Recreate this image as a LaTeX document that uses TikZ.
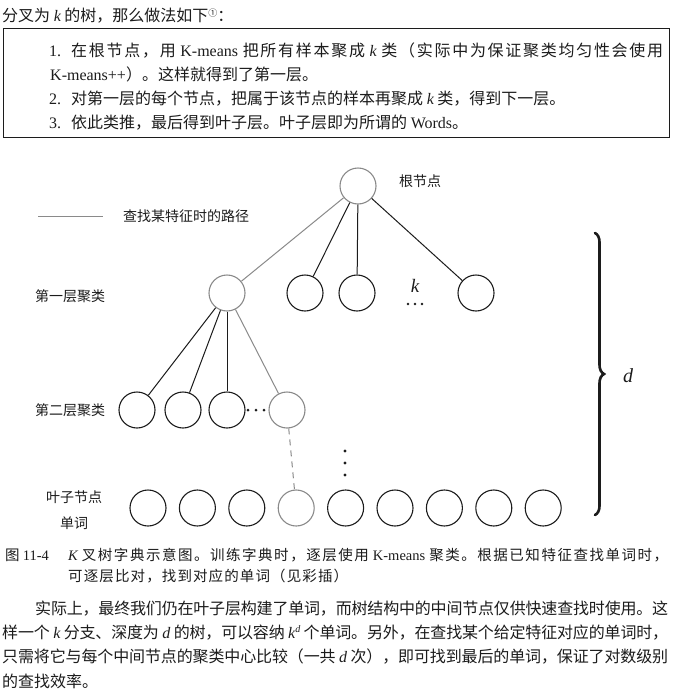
\documentclass[tikz,border=0pt]{standalone}
\usepackage{fontspec}
\setmainfont{Noto Sans CJK SC}
\newfontfamily\latf{Liberation Serif}
\usetikzlibrary{decorations.pathreplacing}
\newXeTeXintercharclass\cjkcls
\count255="4E00
\loop
  \XeTeXcharclass\count255=\cjkcls
  \ifnum\count255<"9FFF \advance\count255 by 1 \repeat
\count255="3000
\loop
  \XeTeXcharclass\count255=\cjkcls
  \ifnum\count255<"303F \advance\count255 by 1 \repeat
\count255="FF01
\loop
  \XeTeXcharclass\count255=\cjkcls
  \ifnum\count255<"FF5E \advance\count255 by 1 \repeat
\XeTeXinterchartokenstate=1
\XeTeXinterchartoks\cjkcls\cjkcls = {\hskip 0pt plus 3pt minus 1pt\relax}
\definecolor{ink}{HTML}{1C1C1C}
\definecolor{pathgray}{HTML}{8A8A8A}
\newcommand\lt[1]{{\latf #1}}
\newcommand\vv[1]{{\latf\itshape #1}}
\newcommand\jl[2]{\hbox to #1{#2}}
\begin{document}
\begin{tikzpicture}[x=1pt,y=-1pt,
  txt/.style={inner sep=0pt, anchor=base west, font=\fontsize{16}{18}\selectfont, text=ink},
  captxt/.style={inner sep=0pt, anchor=base west, font=\fontsize{14.5}{17}\selectfont, text=ink},
  lab/.style={inner sep=0pt, font=\fontsize{14}{16}\selectfont, text=ink},
  nd/.style={circle, draw=ink, line width=1.1pt, minimum size=36pt, inner sep=0pt},
  pn/.style={nd, draw=pathgray},
  ed/.style={draw=ink, line width=1pt},
  pe/.style={draw=pathgray, line width=1pt},
  dotmark/.style={circle, fill=ink, inner sep=0pt, minimum size=3.4pt}]
\useasboundingbox (0,0) rectangle (674,699);
\fill[white] (0,0) rectangle (674,699);

% header
\node[txt] (hdr) at (2,21) {分叉为 \vv{k} 的树，那么做法如下\raisebox{5pt}{\fontsize{9}{9}\selectfont ①}：};

% framed list
\node[draw=ink, line width=0.8pt, minimum width=666pt, minimum height=109pt, inner sep=0pt, anchor=north west] (box) at (3,28) {};
\node[txt] (n1) at (49,56.5) {\lt{1.}};
\node[txt] (i1) at (71,56.5) {\jl{592pt}{在根节点，用 \lt{K-means} 把所有样本聚成 \vv{k} 类（实际中为保证聚类均匀性会使用}};
\node[txt] (i1b) at (50,80.5) {\lt{K-means++}）。这样就得到了第一层。};
\node[txt] (n2) at (49,104.5) {\lt{2.}};
\node[txt] (i2) at (71,104.5) {对第一层的每个节点，把属于该节点的样本再聚成 \vv{k} 类，得到下一层。};
\node[txt] (n3) at (49,128.5) {\lt{3.}};
\node[txt] (i3) at (71,128.5) {依此类推，最后得到叶子层。叶子层即为所谓的 \lt{Words}。};

% legend
\coordinate (lg1) at (38,216);
\coordinate (lg2) at (103,216);
\draw[pe] (lg1) -- (lg2);
\node[lab, anchor=west] (lgt) at (123,216) {查找某特征时的路径};

% root
\node[pn] (root) at (358,186) {};
\node[lab, anchor=west] (rootl) at (399,181) {根节点};

% level 1
\node[pn] (a1) at (227,293) {};
\node[nd] (a2) at (305,293) {};
\node[nd] (a3) at (357,293) {};
\node[nd] (a4) at (476,293) {};
\node[inner sep=0pt, font=\fontsize{19}{19}\selectfont, text=ink] (kl) at (415,286) {\vv{k}};
\node[dotmark, minimum size=2.6pt] (kd1) at (408,304) {};
\node[dotmark, minimum size=2.6pt] (kd2) at (415,304) {};
\node[dotmark, minimum size=2.6pt] (kd3) at (422,304) {};
\node[lab, anchor=west] (l1l) at (35,296) {第一层聚类};

\draw[pe] (root) -- (a1);
\draw[ed] (root) -- (a2);
\draw[ed] (root) -- (a3);
\draw[ed] (root) -- (a4);

% level 2
\node[nd] (b1) at (137,410) {};
\node[nd] (b2) at (183,410) {};
\node[nd] (b3) at (227,410) {};
\node[pn] (b4) at (287,410) {};
\node[dotmark, minimum size=3pt] (bd1) at (248,410) {};
\node[dotmark, minimum size=3pt] (bd2) at (256,410) {};
\node[dotmark, minimum size=3pt] (bd3) at (264,410) {};
\node[lab, anchor=west] (l2l) at (35,410) {第二层聚类};

\draw[ed] (a1) -- (b1);
\draw[ed] (a1) -- (b2);
\draw[ed] (a1) -- (b3);
\draw[pe] (a1) -- (b4);

% vertical dots
\node[dotmark] (vd1) at (345,451) {};
\node[dotmark] (vd2) at (345,463) {};
\node[dotmark] (vd3) at (345,475) {};

% leaves
\foreach \i in {1,...,9} {
  \ifnum\i=4
    \node[pn] (c\i) at ({148+49.4*(\i-1)},508) {};
  \else
    \node[nd] (c\i) at ({148+49.4*(\i-1)},508) {};
  \fi
}
\draw[pe, dash pattern=on 6pt off 5pt] (b4) -- (c4);
\node[lab] (lfl) at (74,497) {叶子节点};
\node[lab] (lfw) at (74,523) {单词};

% brace
\coordinate (br1) at (595,233);
\coordinate (br2) at (595,515);
\draw[ink, line width=2.6pt, line cap=round, decorate, decoration={brace, amplitude=9pt}] (br1) -- (br2);
\node[inner sep=0pt, font=\fontsize{20}{20}\selectfont, text=ink] (dl) at (628,376) {\vv{d}};

% caption
\node[captxt] (cap0) at (5,560) {图 \lt{11-4}};
\node[captxt] (cap1) at (68,560) {\jl{600pt}{\vv{K} 叉树字典示意图。训练字典时，逐层使用 \lt{K-means} 聚类。根据已知特征查找单词时，}};
\node[captxt] (cap2) at (68,581) {\jl{280pt}{可逐层比对，找到对应的单词（见彩插）}};

% body
\node[txt] (p1) at (35,614.5) {\jl{633pt}{实际上，最终我们仍在叶子层构建了单词，而树结构中的中间节点仅供快速查找时使用。这}};
\node[txt] (p2) at (2,638.5) {\jl{666pt}{样一个 \vv{k} 分支、深度为 \vv{d} 的树，可以容纳 \vv{k}\raisebox{6pt}{\fontsize{10}{10}\selectfont\vv{d}} 个单词。另外，在查找某个给定特征对应的单词时，}};
\node[txt] (p3) at (2,662.5) {\jl{666pt}{只需将它与每个中间节点的聚类中心比较（一共 \vv{d} 次），即可找到最后的单词，保证了对数级别}};
\node[txt] (p4) at (2,687.5) {的查找效率。};
\end{tikzpicture}
\end{document}
